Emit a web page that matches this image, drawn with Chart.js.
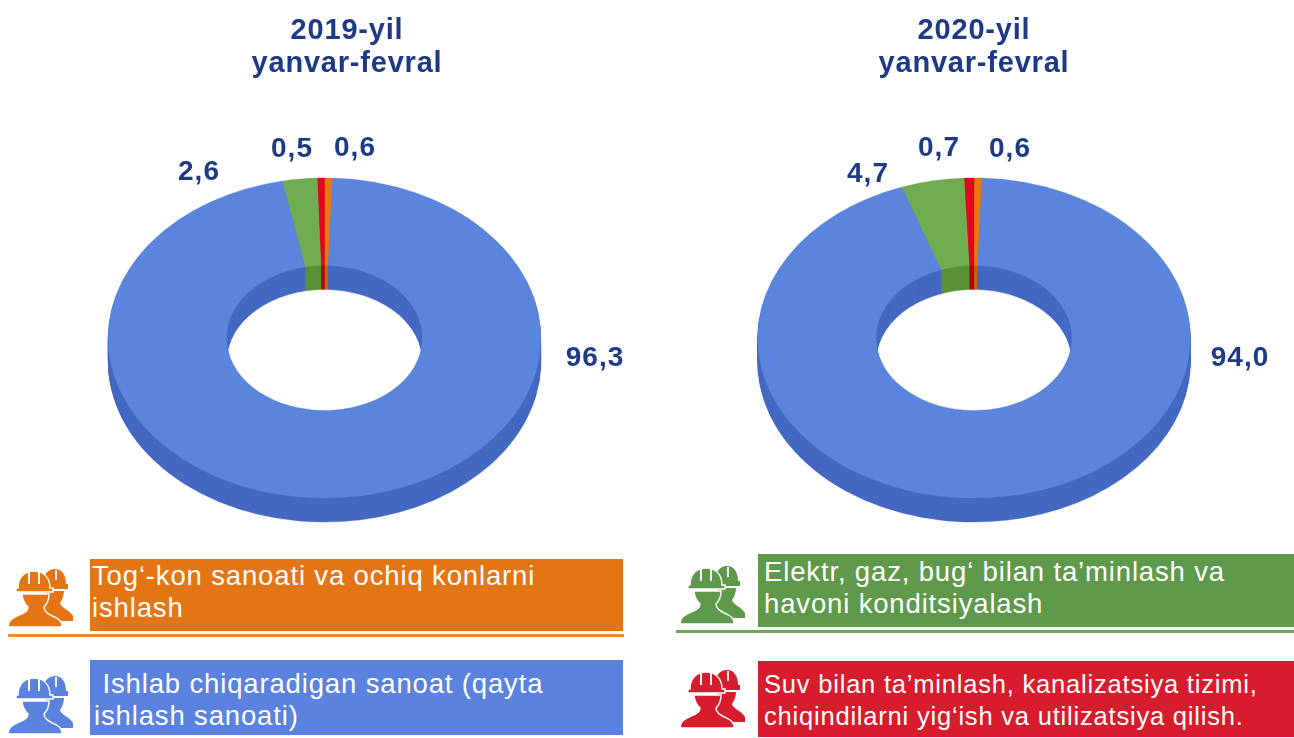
<!DOCTYPE html>
<html><head><meta charset="utf-8">
<script src="https://cdn.jsdelivr.net/npm/chart.js@4"></script>
<style>
html,body{margin:0;padding:0;background:#fff;width:1294px;height:738px;overflow:hidden;font-family:"Liberation Sans",Arial,sans-serif}
canvas{position:absolute;top:0}
.box{position:absolute;color:#fff;line-height:32px;white-space:pre;box-sizing:border-box}
.rule{position:absolute}
.ico{position:absolute;width:66px;height:60px}
</style></head><body>
<svg width="0" height="0" style="position:absolute"><defs>
<symbol id="workers" viewBox="0 0 66 60">
<path d="M35 16C35 5 40 0 47 0C54 0 58 6 58 15H60V20H36Z"/><path d="M38 22H56C56 27 54 31 52 34C53 39 62 41 65 47V52H43L34 40Z"/>
<g stroke="#fff" stroke-width="1.4"><path d="M10 19C10 8 17 2 26 2C35 2 42 8 42 19H45V23H8V19Z"/><path d="M14 25H41C41 31 39 35 36 38C36 44 43 46 50 50C53 52 54 55 54 58H0C0 52 4 49 11 46C17 44 20 42 20 38C17 35 14 30 14 25Z"/></g>
<path d="M21 3V15M31 3V15" stroke="#fff" stroke-width="2" fill="none"/><path d="M48 1V11" stroke="#fff" stroke-width="1.8" fill="none"/>
</symbol>
</defs></svg>
<canvas id="c2019" width="649" height="738" style="left:0"></canvas>
<canvas id="c2020" width="648" height="738" style="left:650px"></canvas>
<div id="legend"></div>
<script>
const categories=["Tog‘-kon sanoati va ochiq konlarni ishlash","Ishlab chiqaradigan sanoat (qayta ishlash sanoati)","Elektr, gaz, bug‘ bilan ta’minlash va havoni konditsiyalash","Suv bilan ta’minlash, kanalizatsiya tizimi, chiqindilarni yig‘ish va utilizatsiya qilish."];
const values2019=[0.6,96.3,2.6,0.5];
const values2020=[0.6,94.0,4.7,0.7];
const titles2019=["2019-yil","yanvar-fevral"];
const titles2020=["2020-yil","yanvar-fevral"];
const faceColors=["#E8780F","#5B84DD","#70AD52","#E1061E"];
const sideColors=["#C9650A","#4469C3","#5B9137","#B00414"];
const legendColors=["#E47514","#5A82DE","#5F994B","#D71C2D"];
const legendLines=[["Tog‘-kon sanoati va ochiq konlarni","ishlash"],[" Ishlab chiqaradigan sanoat (qayta","ishlash sanoati)"],["Elektr, gaz, bug‘ bilan ta’minlash va","havoni konditsiyalash"],["Suv bilan ta’minlash, kanalizatsiya tizimi,","chiqindilarni yig‘ish va utilizatsiya qilish."]];
// label anchor points on the page, one per category
const labelAt2019=[[355,148],[595,358],[199,172],[292,149]];
const labelAt2020=[[1010,149],[1240,358],[868,174],[939,148]];
const TILT=0.74, DEPTH=24, NAVY="#1F3A84";

const pie3d={id:'pie3d',
 beforeDatasetDraw(chart,args){
  const ctx=chart.ctx,meta=args.meta,{x,y}=meta.data[0];
  for(let d=DEPTH;d>=1;d--){
   ctx.save();ctx.translate(x,y+d);ctx.scale(1,TILT);ctx.translate(-x,-y);
   meta.data.forEach((arc,i)=>{const o=arc.options;
    arc.options=Object.assign(Object.create(o),{backgroundColor:sideColors[i],borderColor:sideColors[i]});
    arc.draw(ctx);arc.options=o;});
   ctx.restore();
  }
  ctx.save();ctx.translate(x,y);ctx.scale(1,TILT);ctx.translate(-x,-y);
 },
 afterDatasetDraw(chart){chart.ctx.restore();},
 afterDraw(chart){
  const o=chart.options.plugins.pie3d,ctx=chart.ctx,left=chart.canvas.offsetLeft;
  ctx.save();ctx.fillStyle=NAVY;ctx.textAlign='center';ctx.textBaseline='middle';
  ctx.font='bold 29px "Liberation Sans",Arial,sans-serif';ctx.letterSpacing='0.8px';
  o.titles.forEach((t,i)=>ctx.fillText(t,o.titleX-left,31+33*i));
  ctx.font='bold 28px "Liberation Sans",Arial,sans-serif';ctx.letterSpacing='1px';
  chart.data.datasets[0].data.forEach((v,i)=>ctx.fillText(v.toFixed(1).replace('.',','),o.labels[i][0]-left,o.labels[i][1]));
  ctx.restore();
 }};

function makeChart(id,values,titles,labels,titleX,side){
 new Chart(document.getElementById(id),{type:'doughnut',plugins:[pie3d],
  data:{labels:categories,datasets:[{data:values,backgroundColor:faceColors,borderColor:faceColors,borderWidth:0.4}]},
  options:{responsive:false,animation:false,cutout:'45.3%',
   layout:{padding:{top:121.5,bottom:183.5,left:side,right:side}},
   plugins:{legend:{display:false},tooltip:{enabled:false},title:{display:false},pie3d:{titles,labels,titleX}}}});
}
makeChart('c2019',values2019,titles2019,labelAt2019,347,108);
makeChart('c2020',values2020,titles2020,labelAt2020,974,107.5);

const boxes=[{x:90,y:559,w:533,h:72,ix:8,iy:569,fs:27.5,ls:.85,pl:2,pt:1},{x:90,y:660,w:533,h:75,ix:8,iy:676,fs:27.5,ls:.85,pl:4,pt:8},{x:758,y:554,w:536,h:73,ix:680,iy:566,fs:27.5,ls:.85,pl:6,pt:2},{x:758,y:661,w:536,h:76,ix:680,iy:670,fs:25.5,ls:.8,pl:6,pt:7}];
const rules=[{x:8,y:634,w:616,h:3,c:"#EE8A3C"},{x:676,y:630,w:618,h:3,c:"#6CA658"}];
const lg=document.getElementById('legend');
boxes.forEach((b,i)=>{
 const d=document.createElement('div');d.className='box';
 d.style.cssText=`left:${b.x}px;top:${b.y}px;width:${b.w}px;height:${b.h}px;background:${legendColors[i]};padding:${b.pt}px 0 0 ${b.pl}px;font-size:${b.fs}px;letter-spacing:${b.ls}px`;
 d.textContent=legendLines[i].join("\n");lg.appendChild(d);
 lg.insertAdjacentHTML('beforeend',`<svg class="ico" style="left:${b.ix}px;top:${b.iy}px;fill:${legendColors[i]}"><use href="#workers"/></svg>`);
});
rules.forEach(r=>{const d=document.createElement('div');d.className='rule';d.style.cssText=`left:${r.x}px;top:${r.y}px;width:${r.w}px;height:${r.h}px;background:${r.c}`;lg.appendChild(d);});
</script>
</body></html>
